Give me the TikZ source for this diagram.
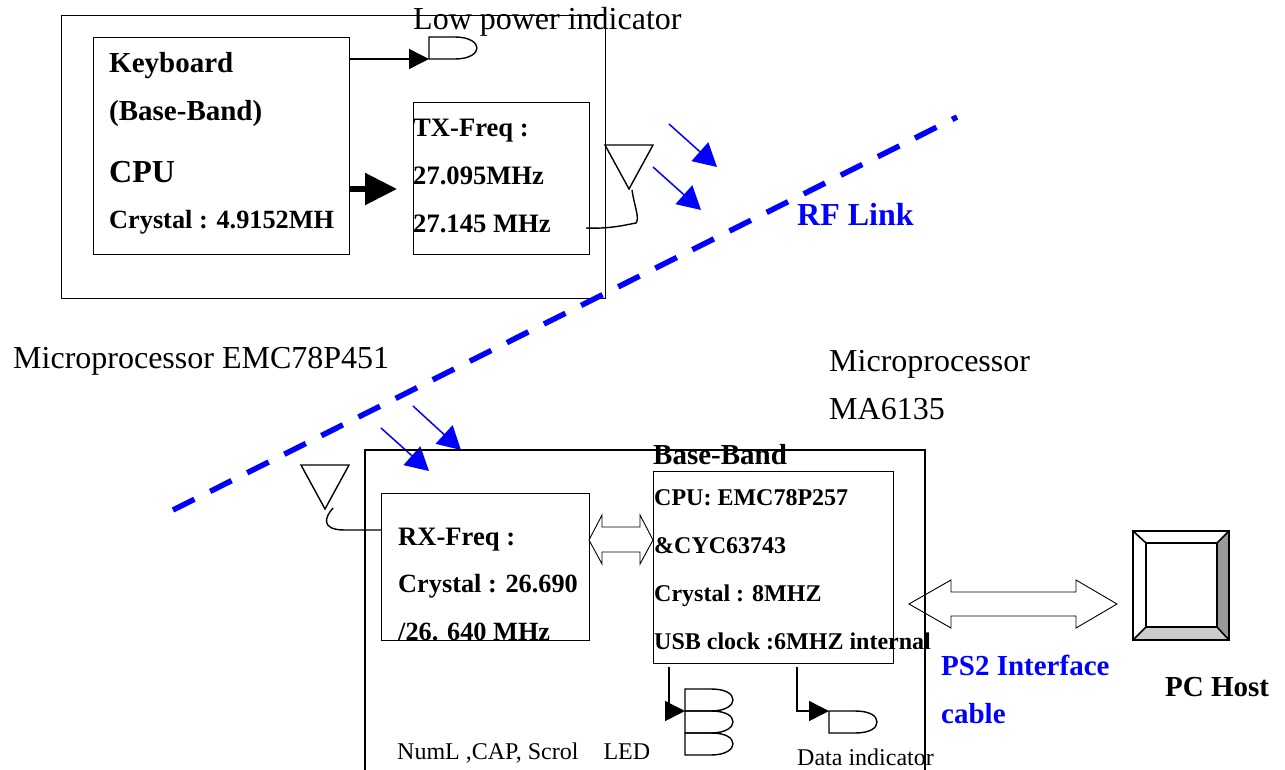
\documentclass[tikz,border=0pt]{standalone}
\usepackage{fontspec}
\setmainfont{Liberation Serif}
\usetikzlibrary{arrows.meta}
\tikzset{
  plain/.style={anchor=base west,inner sep=0pt,font=\fontsize{32}{32}\selectfont},
  small/.style={anchor=base west,inner sep=0pt,font=\fontsize{24}{24}\selectfont},
  heavy/.style={anchor=base west,inner sep=0pt,font=\fontsize{26.6}{26.6}\selectfont\bfseries},
  crystal/.style={anchor=base west,inner sep=0pt,font=\fontsize{26.3}{26.3}\selectfont\bfseries},
  large/.style={anchor=base west,inner sep=0pt,font=\fontsize{29}{29}\selectfont\bfseries},
  tiny/.style={anchor=base west,inner sep=0pt,font=\fontsize{24}{24}\selectfont\bfseries},
  box/.style={draw,line width=.9pt,anchor=north west,inner sep=0pt},
  sig/.style={draw,line width=1.4pt,-{Triangle[length=20pt,width=20pt]}},
  wave/.style={draw=blue,line width=1.5pt,-{Triangle[length=23pt,width=25pt]}},
  hollow/.style={draw,line width=.9pt},
  wire/.style={line width=1.4pt}
}
\begin{document}
\begin{tikzpicture}[x=1pt,y=-1pt]
  \useasboundingbox (0,0) rectangle (1285,769);
  % transmitter side
  \node[box,minimum width=544pt,minimum height=283pt] (txcase) at (61,15) {};
  \node[box,minimum width=256pt,minimum height=217pt] (kbd) at (93,37) {};
  \node[box,minimum width=176pt,minimum height=152pt] (txfreq) at (413,102) {};
  \node[large] (kbd1) at (109,72) {Keyboard};
  \node[large] (kbd2) at (109,120) {(Base-Band)};
  \node[large,font=\fontsize{32}{32}\selectfont\bfseries] (kbd3) at (109,182) {CPU};
  \node[crystal] (kbd4) at (109,228) {Crystal : 4.9152MH};
  \node[heavy] (tx1) at (413,136) {TX-Freq :};
  \node[heavy] (tx2) at (413,184) {27.095MHz};
  \node[heavy] (tx3) at (413,232) {27.145 MHz};
  \node[plain] (lowpower) at (413,29.5) {Low power indicator};
  \node[plain] (mcu1) at (13,368) {Microprocessor EMC78P451};
  % low power lamp
  \coordinate (lamp) at (429,59);
  \draw[wire] (lamp) -- (429,37) -- (455,37) .. controls (470,37) and (477,43) .. (477,48) .. controls (477,53) and (470,59) .. (455,59) -- cycle;
  \draw[sig] (kbd.east |- lamp) -- (lamp);
  \coordinate (kbdout) at (349,189);
  \coordinate (txin) at (397,189);
  \draw[line width=5.5pt,-{Triangle[length=32pt,width=31pt]}] (kbdout) -- (txin);
  % tx aerial
  \coordinate (txant) at (632,190);
  \draw[wire] (605,145) -- (653,145) -- (629,189) -- cycle;
  \draw[wire] (586,228) .. controls (610,229) and (625,225) .. (636,223) .. controls (640,218) and (634,205) .. (txant);
  % radio link
  \coordinate (rfa) at (173,510);
  \coordinate (rfb) at (957,117);
  \draw[blue,line width=5.5pt,dash pattern=on 24pt off 17.5pt] (rfa) -- (rfb);
  \draw[wave] (669,124) -- (717,167);
  \draw[wave] (653,167) -- (701,210);
  \draw[wave] (413,406) -- (461,450);
  \draw[wave] (381,428) -- (429,471);
  \node[plain,text=blue,font=\fontsize{32}{32}\selectfont\bfseries] (rflink) at (797,225) {RF Link};
  % receiver side
  \draw[wire] (365,775) -- (365,450) -- (925,450) -- (925,775);
  \node[box,minimum width=208pt,minimum height=147pt] (rxfreq) at (381,493) {};
  \node[box,minimum width=240pt,minimum height=192pt] (base) at (653,471) {};
  \node[heavy] (rx1) at (398,545) {RX-Freq :};
  \node[crystal] (rx2) at (398,592) {Crystal : 26.690};
  \node[crystal] (rx3) at (398,640) {/26. 640 MHz};
  \node[plain] (mcu2a) at (829,371) {Microprocessor};
  \node[plain] (mcu2b) at (829,419) {MA6135};
  \node[large] (basetitle) at (653,464) {Base-Band};
  \node[tiny] (base1) at (654,505) {CPU: EMC78P257};
  \node[tiny] (base2) at (654,553) {\&CYC63743};
  \node[tiny] (base3) at (654,601) {Crystal : 8MHZ};
  \node[tiny] (base4) at (654,649) {USB clock :6MHZ internal};
  \node[small] (numl) at (397,759) {NumL ,CAP, Scrol\hspace{1.04em}LED};
  \node[small] (data) at (797,765) {Data indicator};
  % rx aerial
  \coordinate (rxant) at (333,508);
  \draw[wire] (301,465) -- (349,465) -- (325,509) -- cycle;
  \draw[wire] (rxant) .. controls (325,517) and (320,530) .. (345,530) -- (rxfreq.west |- 0,530);
  % hollow double arrows
  \draw[hollow] (589,540) -- (602,515) -- (602,527) -- (640,527) -- (640,515) -- (653,540) -- (640,564) -- (640,552) -- (602,552) -- (602,564) -- cycle;
  \draw[hollow] (909,604) -- (951,580) -- (951,592) -- (1076,592) -- (1076,580) -- (1117,604) -- (1076,628) -- (1076,616) -- (951,616) -- (951,628) -- cycle;
  % PC host
  \fill[black!40] (1229,531) -- (1217,543) -- (1217,627) -- (1229,640) -- cycle;
  \fill[black!20] (1133,640) -- (1146,627) -- (1217,627) -- (1229,640) -- cycle;
  \draw[line width=1.6pt] (1133,531) rectangle (1229,640);
  \draw[line width=1.6pt] (1146,543) rectangle (1217,627);
  \foreach \ox/\oy/\ix/\iy in {1133/531/1146/543,1229/531/1217/543,1133/640/1146/627,1229/640/1217/627}
    \draw[line width=1.6pt] (\ox,\oy) -- (\ix,\iy);
  \node[large,text=blue] (ps2a) at (941,675) {PS2 Interface};
  \node[large,text=blue] (ps2b) at (941,723) {cable};
  \node[large] (pchost) at (1165,696) {PC Host};
  % status lamps
  \coordinate (ledin) at (685,711);
  \coordinate (datain) at (829,711);
  \foreach \ly in {689,711,733}
    \draw[wire] (685,\ly+22) -- (685,\ly) -- (711,\ly) .. controls (726,\ly) and (733,\ly+5) .. (733,\ly+11) .. controls (733,\ly+16) and (726,\ly+22) .. (711,\ly+22) -- cycle;
  \draw[wire] (datain) -- (855,711) .. controls (870,711) and (877,716) .. (877,722) .. controls (877,728) and (870,733) .. (855,733) -- (829,733) -- cycle;
  \draw[sig] (669,667) -- (669,711) -- (ledin);
  \draw[sig] (797,667) -- (797,711) -- (datain);
\end{tikzpicture}
\end{document}
